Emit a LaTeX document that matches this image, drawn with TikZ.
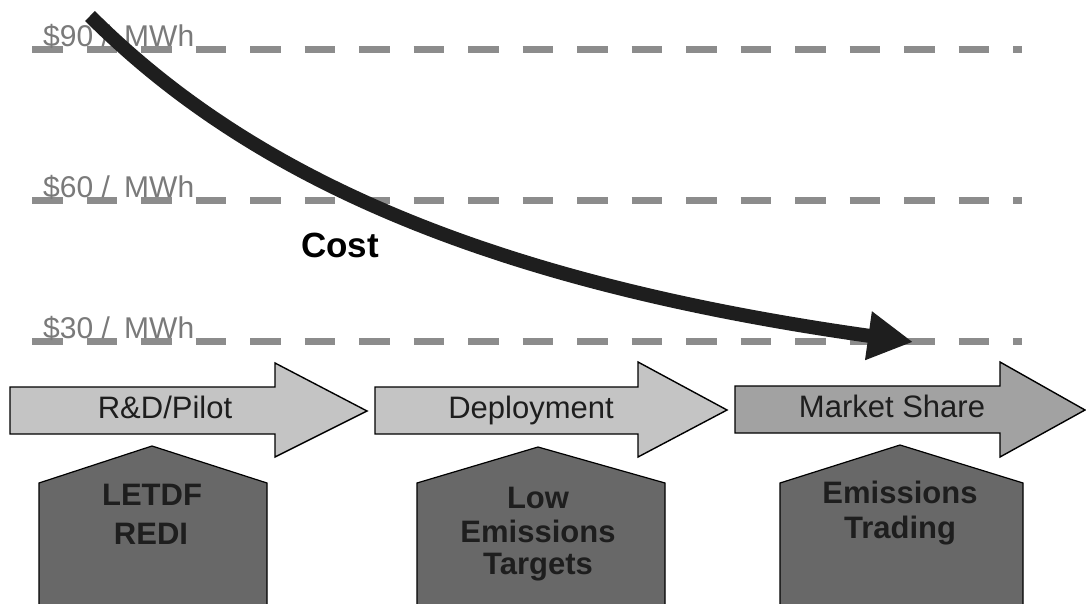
\documentclass[tikz,border=0pt]{standalone}
\usepackage{fontspec}
\setmainfont{Liberation Sans}
\usetikzlibrary{arrows.meta}
\definecolor{lightfill}{HTML}{C4C4C4}
\definecolor{midfill}{HTML}{A2A2A2}
\definecolor{pentfill}{HTML}{686868}
\definecolor{dashgray}{HTML}{8C8C8C}
\definecolor{labelgray}{HTML}{7A7A7A}
\definecolor{inkdark}{HTML}{1E1E1E}
\begin{document}
\begin{tikzpicture}[x=1pt,y=-1pt,
  dashline/.style={line width=7pt, draw=dashgray, dash pattern=on 30.5pt off 24pt},
  pricelabel/.style={inner sep=0pt, text=labelgray, font=\fontsize{30}{32}\selectfont},
  costarrow/.style={line width=14pt, draw=inkdark, -{Triangle[length=45pt,width=46pt]}},
  costlabel/.style={inner sep=0pt, text=black, font=\bfseries\fontsize{35}{38}\selectfont},
  stage/.style={draw=black, line width=1.4pt, line join=miter},
  stagetext/.style={inner sep=0pt, text=inkdark, font=\fontsize{31}{34}\selectfont},
  pent/.style={draw=black, line width=1.2pt, fill=pentfill},
  penttext/.style={inner sep=0pt, text=inkdark, font=\bfseries\fontsize{31}{34}\selectfont}
]
\useasboundingbox (0,0) rectangle (1086,604);
\fill[white] (0,0) rectangle (1086,604);

% price lines
\coordinate (l90s) at (32,50);  \coordinate (l90e) at (1022,50);
\coordinate (l60s) at (32,200); \coordinate (l60e) at (1022,200);
\coordinate (l30s) at (32,341); \coordinate (l30e) at (1022,341);
\draw[dashline] (l90s) -- (l90e);
\draw[dashline] (l60s) -- (l60e);
\draw[dashline] (l30s) -- (l30e);
\node[pricelabel, anchor=base west] (p90) at (43,47) {\$90 /\hspace{6pt} MWh};
\node[pricelabel, anchor=base west] (p60) at (43,197) {\$60 /\hspace{6pt} MWh};
\node[pricelabel, anchor=base west] (p30) at (43,338) {\$30 /\hspace{6pt} MWh};

% cost curve
\coordinate (cs) at (90,16);
\coordinate (ce) at (913,342);
\draw[costarrow] (cs) .. controls (250,176) and (487,282) .. (ce);
\node[costlabel, anchor=base] (cost) at (340,257) {Cost};

% stage arrows
\filldraw[stage, fill=lightfill] (10,387) -- (275,387) -- (275,363) -- (367,411) -- (275,457) -- (275,434) -- (10,434) -- cycle;
\filldraw[stage, fill=lightfill] (375,387) -- (638,387) -- (638,362) -- (727,410) -- (638,457) -- (638,434) -- (375,434) -- cycle;
\filldraw[stage, fill=midfill] (735,386) -- (1000,386) -- (1000,362) -- (1085,410) -- (1000,457) -- (1000,433) -- (735,433) -- cycle;
\node[stagetext, anchor=base] (rd) at (165,418) {R\&D/Pilot};
\node[stagetext, anchor=base] (dep) at (531,418) {Deployment};
\node[stagetext, anchor=base] (mkt) at (892,417) {Market Share};

% policy pentagons
\filldraw[pent] (39,608) -- (39,483) -- (152,446) -- (267,483) -- (267,608);
\filldraw[pent] (417,608) -- (417,483) -- (538,447) -- (665,483) -- (665,608);
\filldraw[pent] (780,608) -- (780,483) -- (900,445) -- (1023,483) -- (1023,608);
\node[penttext, anchor=base] (letdf) at (152,505) {LETDF};
\node[penttext, anchor=base] (redi) at (151,544) {REDI};
\node[penttext, anchor=base] (low) at (538,508) {Low};
\node[penttext, anchor=base] (emis) at (538,542) {Emissions};
\node[penttext, anchor=base] (targ) at (538,574) {Targets};
\node[penttext, anchor=base] (emis2) at (900,503) {Emissions};
\node[penttext, anchor=base] (trad) at (900,538) {Trading};
\end{tikzpicture}
\end{document}
